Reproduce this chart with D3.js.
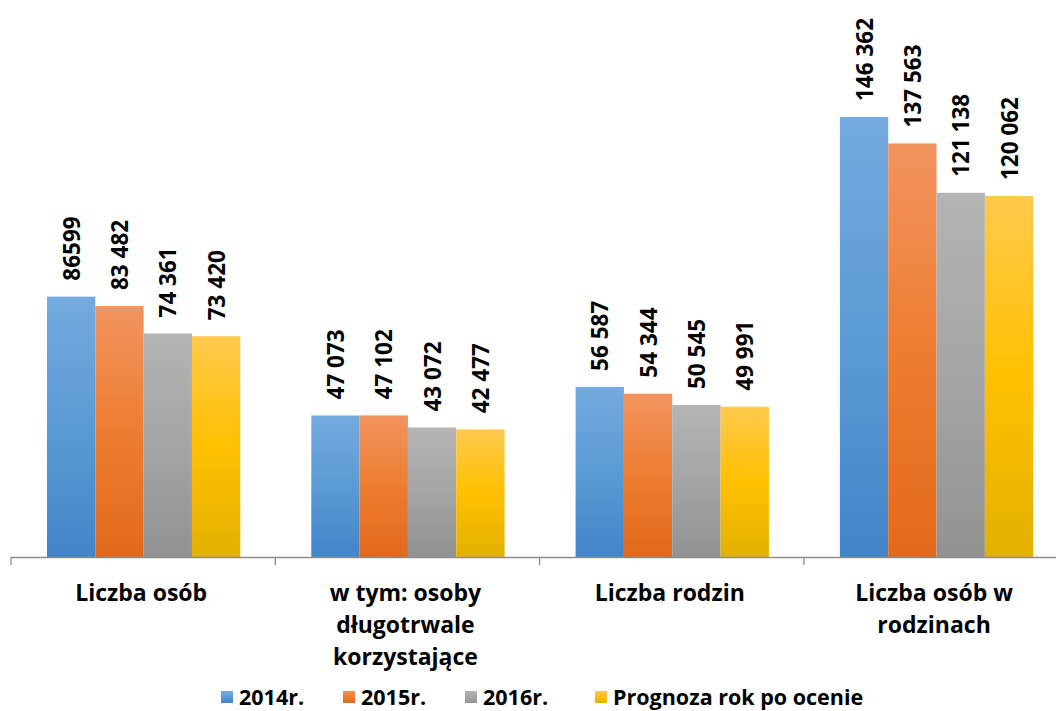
<!DOCTYPE html>
<html lang="pl">
<head>
<meta charset="UTF-8" />
<title>Liczba osób</title>
<script src="https://d3js.org/d3.v7.min.js"></script>
<style>
  body { margin: 0; background: #fff; }
  text { font-family: "Open Sans", sans-serif; font-weight: bold; fill: #000; }
</style>
</head>
<body>
<svg id="chart"></svg>
<script>
const categories = [
  ["Liczba osób"],
  ["w tym: osoby", "długotrwale", "korzystające"],
  ["Liczba rodzin"],
  ["Liczba osób w", "rodzinach"]
];
const seriesNames = ["2014r.", "2015r.", "2016r.", "Prognoza rok po ocenie"];
const values = [
  [86599, 83482, 74361, 73420],
  [47073, 47102, 43072, 42477],
  [56587, 54344, 50545, 49991],
  [146362, 137563, 121138, 120062]
];
const valueLabels = [
  ["86599", "83 482", "74 361", "73 420"],
  ["47 073", "47 102", "43 072", "42 477"],
  ["56 587", "54 344", "50 545", "49 991"],
  ["146 362", "137 563", "121 138", "120 062"]
];
const colors = [
  ["#74aadf", "#5b9bd5", "#4284c8"],
  ["#f29460", "#ed7d31", "#e2691b"],
  ["#b4b4b4", "#a5a5a5", "#929292"],
  ["#ffc94d", "#ffc000", "#e3b000"]
];

const W = 1056, H = 711;
const svg = d3.select("#chart").attr("width", W).attr("height", H);

// the last group boundary falls just past the right edge, as in the original
const x0 = d3.scaleBand().domain(d3.range(categories.length)).range([11, 1068.2]);
const x1 = d3.scaleBand().domain(d3.range(seriesNames.length))
  .range([36, x0.bandwidth() - 35]).padding(0);
const y = d3.scaleLinear().domain([0, 160000]).range([557, 76]);

const defs = svg.append("defs");
colors.forEach((c, i) => {
  const g = defs.append("linearGradient").attr("id", "grad" + i)
    .attr("x1", 0).attr("y1", 0).attr("x2", 0).attr("y2", 1);
  g.append("stop").attr("offset", "0%").attr("stop-color", c[0]);
  g.append("stop").attr("offset", "50%").attr("stop-color", c[1]);
  g.append("stop").attr("offset", "100%").attr("stop-color", c[2]);
});

const groups = svg.selectAll(".grp").data(values).enter().append("g")
  .attr("class", "grp")
  .attr("transform", (d, i) => `translate(${x0(i)},0)`);

groups.selectAll("rect").data(d => d).enter().append("rect")
  .attr("x", (d, j) => x1(j))
  .attr("y", d => y(d))
  .attr("width", x1.bandwidth())
  .attr("height", d => y(0) - y(d))
  .attr("fill", (d, j) => `url(#grad${j})`);

groups.each(function (d, i) {
  d3.select(this).selectAll(".lbl").data(d).enter().append("text")
    .attr("class", "lbl")
    .attr("transform", (v, j) => `translate(${x1(j) + x1.bandwidth() / 2 + 8.5},${y(v) - 16}) rotate(-90)`)
    .attr("font-size", 22.5)
    .text((v, j) => valueLabels[i][j]);
});

// axis
const axis = svg.append("g");
axis.append("line").attr("x1", x0.range()[0]).attr("x2", W)
  .attr("y1", y(0) + 0.5).attr("y2", y(0) + 0.5)
  .attr("stroke", "#8c8c8c").attr("stroke-width", 1.3);
const ticks = d3.range(categories.length).map(i => x0(i));
axis.selectAll(".tk").data(ticks).enter().append("line")
  .attr("x1", d => d).attr("x2", d => d)
  .attr("y1", y(0)).attr("y2", y(0) + 8)
  .attr("stroke", "#8c8c8c").attr("stroke-width", 1.3);

categories.forEach((lines, i) => {
  const cx = x0(i) + x0.bandwidth() / 2 - 2;
  const t = svg.append("text")
    .attr("text-anchor", "middle")
    .attr("font-size", 23)
    .attr("x", cx)
    .attr("y", 601);
  lines.forEach((l, k) => {
    t.append("tspan").attr("x", cx)
      .attr("dy", k === 0 ? 0 : 32).text(l);
  });
});

// legend
const legendX = [221, 343, 465, 595];
const legend = svg.append("g");
seriesNames.forEach((s, j) => {
  legend.append("rect").attr("x", legendX[j]).attr("y", 691)
    .attr("width", 12).attr("height", 12).attr("fill", `url(#grad${j})`);
  legend.append("text").attr("x", legendX[j] + 18).attr("y", 705)
    .attr("font-size", 21.5).text(s);
});
</script>
</body>
</html>
